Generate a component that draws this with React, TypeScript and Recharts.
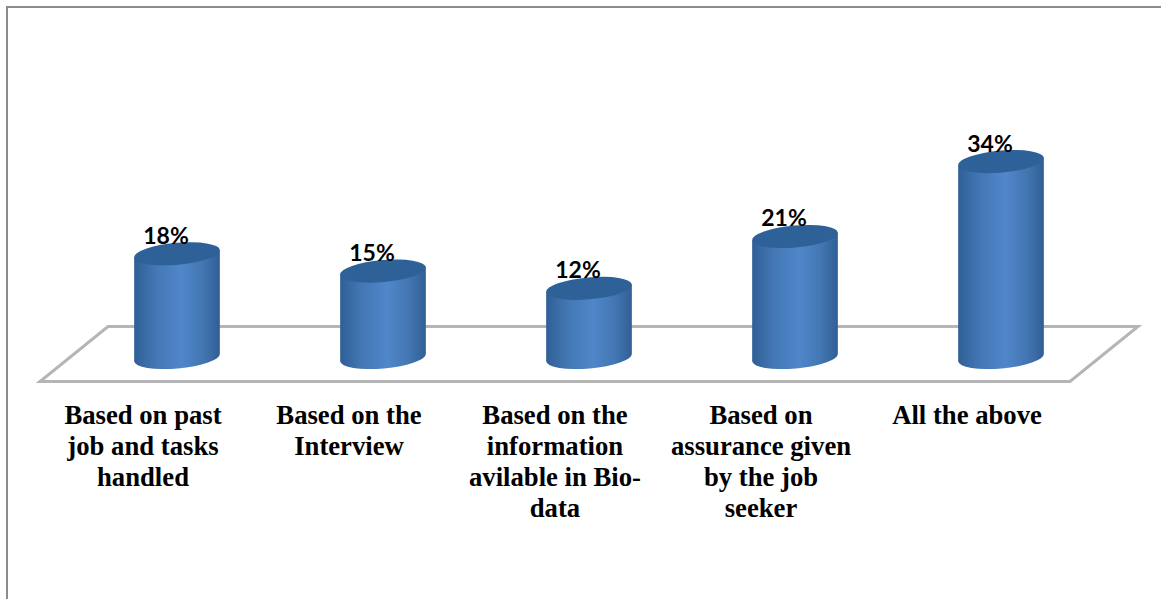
import React from 'react';
import { BarChart, Bar, XAxis, YAxis, LabelList, usePlotArea } from 'recharts';

const categories = [
  'Based on past job and tasks handled',
  'Based on the Interview',
  'Based on the information avilable in Bio-data',
  'Based on assurance given by the job seeker',
  'All the above',
];
const tickLines = [
  ['Based on past', 'job and tasks', 'handled'],
  ['Based on the', 'Interview'],
  ['Based on the', 'information', 'avilable in Bio-', 'data'],
  ['Based on', 'assurance given', 'by the job', 'seeker'],
  ['All the above'],
];
const values = [18, 15, 12, 21, 34];

const chartData = categories.map((name, i) => ({ name, value: values[i] }));

const RX = 43;
const RY = 11;
const TILT = -5;
const DEPTH = 34; // bars sit back from the front edge of the floor

// The tilted floor the cylinders stand on
const Floor = () => {
  const plot = usePlotArea();
  if (!plot) return null;
  const left = plot.x;
  const right = plot.x + plot.width;
  const front = plot.y + plot.height + 24;
  const back = plot.y + plot.height - 31;
  const points = `${left - DEPTH},${front} ${right - DEPTH},${front} ${right + DEPTH},${back} ${left + DEPTH},${back}`;
  return <polygon points={points} fill="#fff" stroke="#b5b5b5" strokeWidth={3} />;
};

const Cylinder = (props: any) => {
  const { x, y, width, height } = props;
  const cx = x + width / 2;
  const bottom = y + height;
  const rad = (TILT * Math.PI) / 180;
  const dx = RX * Math.cos(rad);
  const dy = RX * Math.sin(rad);
  const body =
    `M${cx - dx},${y - dy} L${cx - dx},${bottom - dy} ` +
    `A${RX},${RY} ${TILT} 0 0 ${cx + dx},${bottom + dy} ` +
    `L${cx + dx},${y + dy} Z`;
  return (
    <g style={{ filter: 'blur(0.6px)' }}>
      <path d={body} fill="url(#cylinderBody)" />
      <ellipse cx={cx} cy={y} rx={RX} ry={RY} fill="#2f6199" transform={`rotate(${TILT} ${cx} ${y})`} />
    </g>
  );
};

const CategoryTick = (props: any) => {
  const { x, y, index } = props;
  const top = y + 58;
  return (
    <text
      x={x - DEPTH}
      y={top}
      textAnchor="middle"
      fontFamily="'Liberation Serif', serif"
      fontWeight="bold"
      fontSize={26.7}
      fill="#000"
    >
      {tickLines[index].map((line, i) => (
        <tspan key={i} x={x - DEPTH} y={top + i * 31}>
          {line}
        </tspan>
      ))}
    </text>
  );
};

const ValueLabel = (props: any) => {
  const { x, y, width, value } = props;
  return (
    <text
      x={x + width / 2 - 11}
      y={y - 10}
      textAnchor="middle"
      fontFamily="Lato, sans-serif"
      fontWeight="bold"
      fontSize={23}
      fill="#000"
    >
      {value}%
    </text>
  );
};

export default function App() {
  return (
    <div style={{ position: 'absolute', left: 0, top: 0, width: 1167, height: 599, background: '#fff' }}>
      <div
        style={{
          position: 'absolute',
          left: 6,
          top: 6,
          width: 1153,
          height: 600,
          borderTop: '2px solid #8c8c8c',
          borderLeft: '2px solid #8c8c8c',
        }}
      />
      <BarChart
        width={1167}
        height={599}
        data={chartData}
        margin={{ top: 127, right: 63, bottom: 0, left: 74 }}
        barCategoryGap={60}
        style={{ position: 'absolute', left: 0, top: 0 }}
      >
        <defs>
          <linearGradient id="cylinderBody" x1="0" y1="0" x2="1" y2="0">
            <stop offset="0%" stopColor="#2f5f96" />
            <stop offset="25%" stopColor="#4377b4" />
            <stop offset="55%" stopColor="#5087ca" />
            <stop offset="80%" stopColor="#4376b2" />
            <stop offset="100%" stopColor="#305f94" />
          </linearGradient>
        </defs>
        <Floor />
        <XAxis
          dataKey="name"
          axisLine={false}
          tickLine={false}
          interval={0}
          height={241.5}
          tick={<CategoryTick />}
        />
        <YAxis hide domain={[0, 40]} />
        <Bar dataKey="value" shape={<Cylinder />} isAnimationActive={false}>
          <LabelList dataKey="value" content={<ValueLabel />} />
        </Bar>
      </BarChart>
    </div>
  );
}
